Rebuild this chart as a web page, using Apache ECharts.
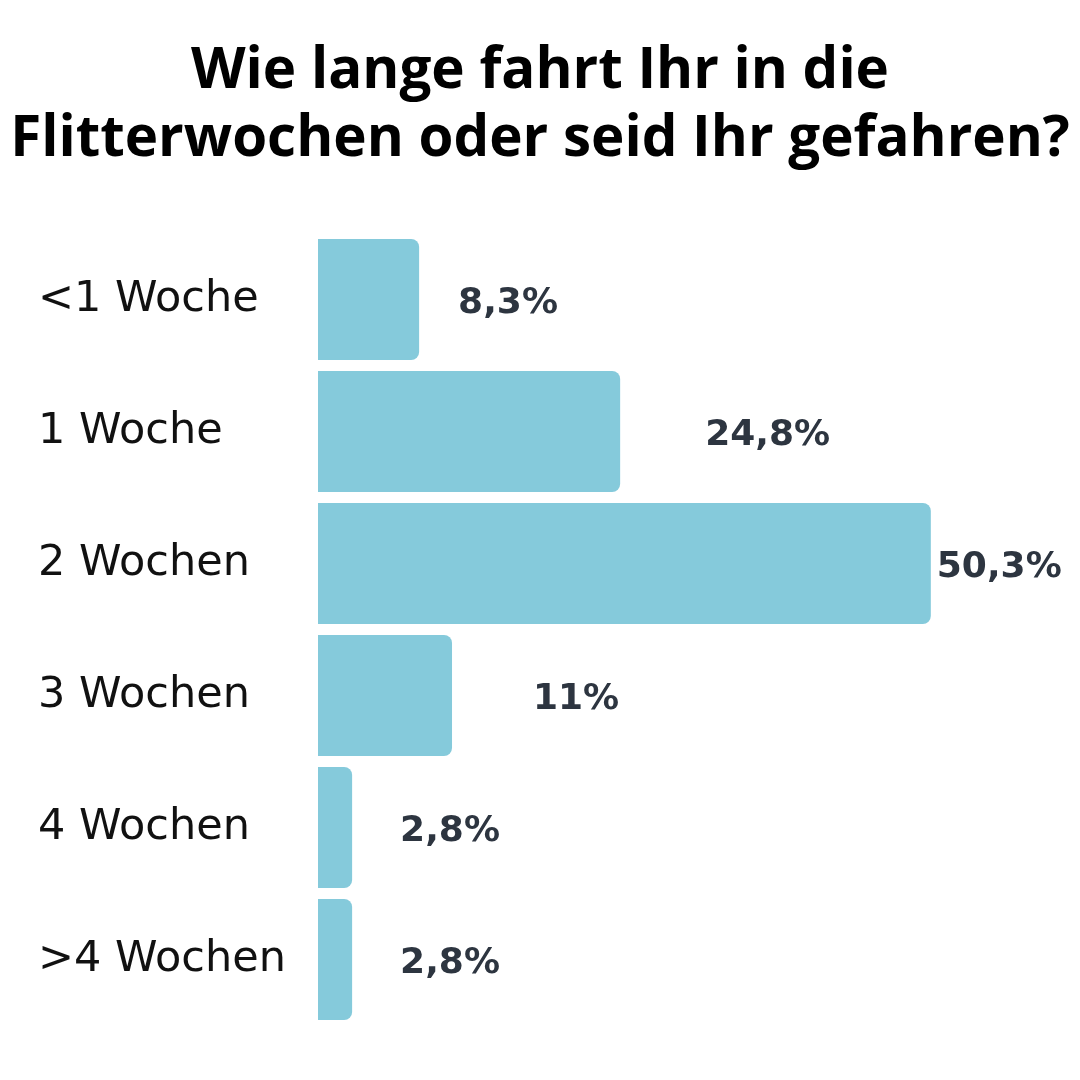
<!DOCTYPE html>
<html>
<head>
<meta charset="utf-8">
<script src="https://cdn.jsdelivr.net/npm/echarts@6/dist/echarts.min.js"></script>
<style>html,body{margin:0;padding:0;background:#fff}#c{width:1080px;height:1080px}</style>
</head>
<body>
<div id="c"></div>
<script>
const titleText = 'Wie lange fahrt Ihr in die\nFlitterwochen oder seid Ihr gefahren?';
const categories = ['<1 Woche', '1 Woche', '2 Wochen', '3 Wochen', '4 Wochen', '>4 Wochen'];
const values = [8.3, 24.8, 50.3, 11, 2.8, 2.8];
const valueLabels = ['8,3%', '24,8%', '50,3%', '11%', '2,8%', '2,8%'];
// label gap from bar end (styling)
const labelGap = [39, 85, 6, 81, 48, 48];

const chart = echarts.init(document.getElementById('c'), null, {renderer: 'canvas'});
chart.setOption({
  backgroundColor: '#ffffff',
  animation: false,
  graphic: [{
    type: 'text',
    left: 'center',
    top: 38,
    style: {
      text: titleText,
      textAlign: 'center',
      fontFamily: 'Open Sans',
      fontWeight: 'bold',
      fontSize: 56.5,
      lineHeight: 68,
      fill: '#000000'
    }
  }],
  grid: {left: 318, top: 233.5, width: 731, height: 792, containLabel: false},
  xAxis: {
    type: 'value', min: 0, max: 60, show: false
  },
  yAxis: {
    type: 'category',
    data: categories,
    inverse: true,
    axisLine: {show: false},
    axisTick: {show: false},
    axisLabel: {
      align: 'left',
      margin: 280,
      padding: [6, 0, 0, 0],
      fontFamily: 'DejaVu Sans',
      fontWeight: 'normal',
      fontSize: 43,
      color: '#111111'
    }
  },
  series: [{
    type: 'bar',
    barWidth: 121,
    data: values.map((v, i) => ({
      value: v,
      label: {distance: labelGap[i]}
    })),
    itemStyle: {color: '#85cadb', borderRadius: [0, 8, 8, 0]},
    label: {
      show: true,
      position: 'right',
      offset: [0, 4],
      formatter: p => valueLabels[p.dataIndex],
      fontFamily: 'DejaVu Sans',
      fontWeight: 'bold',
      fontSize: 36,
      color: '#2d3540'
    }
  }]
});
</script>
</body>
</html>
